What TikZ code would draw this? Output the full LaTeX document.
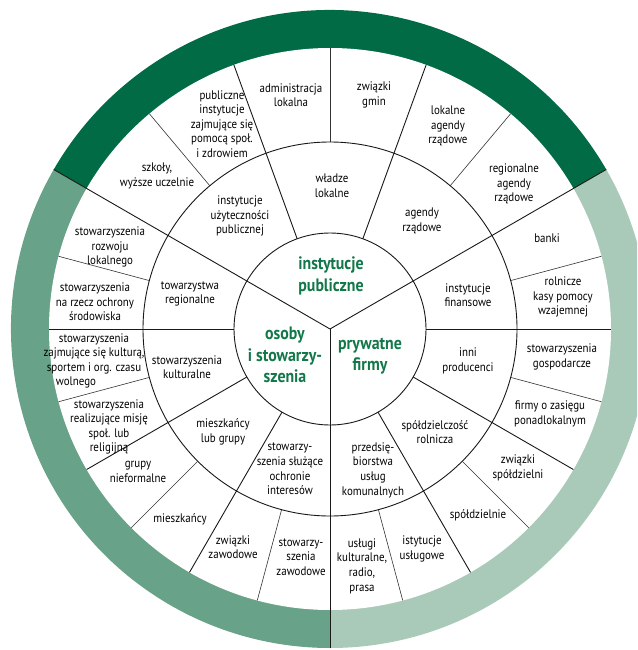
\documentclass[tikz,border=0pt]{standalone}
\usepackage{fontspec}
\setmainfont{PT Sans}[FakeStretch=0.88]
\definecolor{ringdark}{HTML}{006B45}
\definecolor{ringmid}{HTML}{68A288}
\definecolor{ringlight}{HTML}{A9C9B9}
\definecolor{txtgreen}{HTML}{12784A}
\begin{document}
\begin{tikzpicture}[x=1pt,y=-1pt,
  lbl/.style={align=center,inner sep=0pt,font=\fontsize{12.4}{14.6}\selectfont,text=black},
  ctr/.style={align=center,inner sep=0pt,font=\fontsize{18}{21.5}\selectfont\bfseries,text=txtgreen},
  mainline/.style={line width=0.9pt,draw=black!90},
  thinline/.style={line width=0.6pt,draw=black!80}]
\useasboundingbox (0,0) rectangle (637,650);
\clip (0,0) rectangle (637,650);
\begin{scope}[shift={(330,329)},y=1pt]
  \fill[ringdark] (0,0) -- (30:319) arc[start angle=30,end angle=150,radius=319] -- cycle;
  \fill[ringmid] (0,0) -- (150:319) arc[start angle=150,end angle=270,radius=319] -- cycle;
  \fill[ringlight] (0,0) -- (270:319) arc[start angle=270,end angle=390,radius=319] -- cycle;
  \fill[white] (0,0) circle[radius=281];
  \draw[mainline] (0,0) circle[radius=96];
  \draw[mainline] (0,0) circle[radius=187];
  \foreach \a in {30,150,270} \draw[mainline] (0,0) -- (\a:319);
  \foreach \a in {70,110,180,210,240,300,330,0} \draw[mainline] (\a:96) -- (\a:281);
  \foreach \a in {130,90,50,165,195,225,255,15,345,315,285} \draw[thinline] (\a:187) -- (\a:281);
\end{scope}
% outer labels - top
\node[lbl] (o1) at (157,176) {szkoły,\\wyższe uczelnie};
\node[lbl] (o2) at (222,124) {publiczne\\instytucje\\zajmujące się\\pomocą społ.\\i zdrowiem};
\node[lbl] (o3) at (291,95) {administracja\\lokalna};
\node[lbl] (o4) at (374,95) {związki\\gmin};
\node[lbl] (o5) at (448,126) {lokalne\\agendy\\rządowe};
\node[lbl] (o6) at (514,184) {regionalne\\agendy\\rządowe};
% outer labels - left
\node[lbl] (o7) at (110,247) {stowarzyszenia\\rozwoju\\lokalnego};
\node[lbl] (o8) at (95,302) {stowarzyszenia\\na rzecz ochrony\\środowiska};
\node[lbl] (o9) at (94,361) {stowarzyszenia\\zajmujące się kulturą,\\sportem i org. czasu\\wolnego\hspace*{36pt}};
\node[lbl] (o10) at (109,427) {stowarzyszenia\\realizujące misję\\społ. lub\\religijną};
\node[lbl] (o11) at (138,472) {grupy\\nieformalne};
\node[lbl] (o12) at (180,519) {mieszkańcy};
\node[lbl] (o13) at (233,547) {związki\\zawodowe};
\node[lbl] (o14) at (301,557) {stowarzy-\\szenia\\zawodowe};
% outer labels - right
\node[lbl] (o15) at (362,566) {usługi\\kulturalne,\\radio,\\prasa};
\node[lbl] (o16) at (422,549) {istytucje\\usługowe};
\node[lbl] (o17) at (478,515) {spółdzielnie};
\node[lbl] (o18) at (518,468) {związki\\spółdzielni};
\node[lbl] (o19) at (550,414) {firmy o zasięgu\\ponadlokalnym};
\node[lbl] (o20) at (562,357) {stowarzyszenia\\gospodarcze};
\node[lbl] (o21) at (563,297) {rolnicze\\kasy pomocy\\wzajemnej};
\node[lbl] (o22) at (547,238) {banki};
% middle labels
\node[lbl] (m1) at (240,216) {instytucje\\użyteczności\\publicznej};
\node[lbl] (m2) at (332,186) {władze\\lokalne};
\node[lbl] (m3) at (422,221) {agendy\\rządowe};
\node[lbl] (m4) at (190,294) {towarzystwa\\regionalne};
\node[lbl] (m5) at (187,367) {stowarzyszenia\\kulturalne};
\node[lbl] (m6) at (223,432) {mieszkańcy\\lub grupy};
\node[lbl] (m7) at (290,469) {stowarzy-\\szenia służące\\ochronie\\interesów};
\node[lbl] (m8) at (373,470) {przedsię-\\biorstwa\\usług\\komunalnych};
\node[lbl] (m9) at (435,432) {spółdzielczość\\rolnicza};
\node[lbl] (m10) at (468,361) {inni\\producenci};
\node[lbl] (m11) at (468,295) {instytucje\\finansowe};
% centre labels
\node[ctr] (c1) at (331,276) {instytucje\\publiczne};
\node[ctr] (c2) at (285,355) {osoby\\i stowarzy-\\szenia};
\node[ctr] (c3) at (370,356) {prywatne\\firmy};
\end{tikzpicture}
\end{document}
